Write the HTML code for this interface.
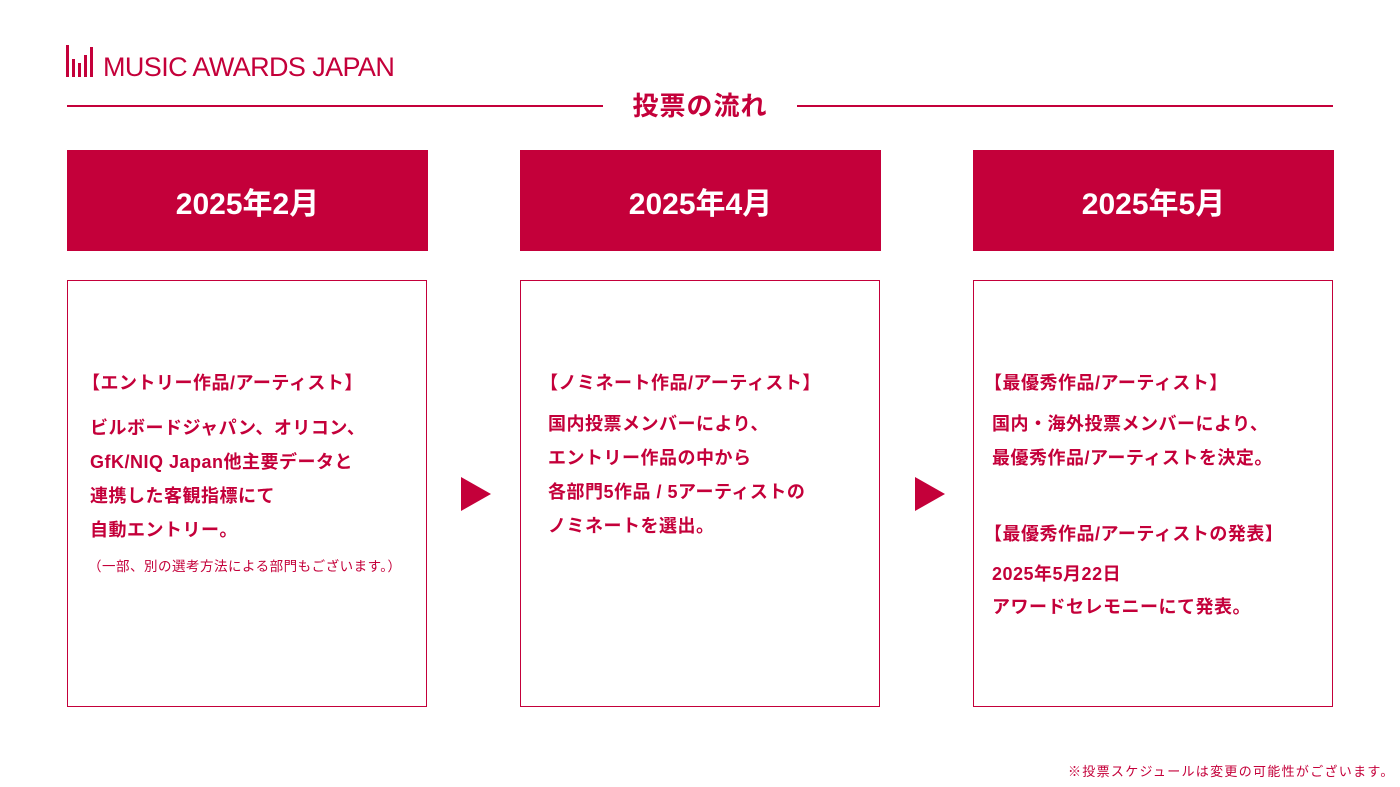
<!DOCTYPE html>
<html><head><meta charset="utf-8"><style>
body{margin:0;width:1400px;height:787px;background:#fff;position:relative;overflow:hidden;font-family:"Liberation Sans","Noto Sans CJK JP",sans-serif;color:#c4003a;}
.a{position:absolute;}
.hd{position:absolute;top:150px;width:361px;height:101px;background:#c4003a;color:#fff;font-size:30px;font-weight:bold;display:flex;align-items:center;justify-content:center;}
.bx{position:absolute;top:280px;width:358px;height:425px;border:1.5px solid #c4003a;}
.t{position:absolute;font-size:18px;font-weight:bold;line-height:34px;white-space:nowrap;letter-spacing:0.5px;}
.ar{position:absolute;top:477px;width:0;height:0;border-top:17px solid transparent;border-bottom:17px solid transparent;border-left:30px solid #c4003a;}
</style></head><body>
<div class="a" style="left:66px;top:45px;width:30px;height:32px;">
<svg width="30" height="32"><rect x="0" y="0" width="3" height="32" fill="#c4003a"/><rect x="6" y="14" width="3" height="18" fill="#c4003a"/><rect x="12" y="18" width="3" height="14" fill="#c4003a"/><rect x="18" y="10" width="3" height="22" fill="#c4003a"/><rect x="24" y="2" width="3" height="30" fill="#c4003a"/></svg></div>
<div class="a" style="left:103px;top:51px;font-size:27px;line-height:32px;letter-spacing:-0.6px;">MUSIC AWARDS JAPAN</div>
<div class="a" style="left:67px;top:105px;width:536px;height:2px;background:#c4003a"></div>
<div class="a" style="left:797px;top:105px;width:536px;height:2px;background:#c4003a"></div>
<div class="a" style="left:603px;top:88px;width:194px;text-align:center;font-size:26px;font-weight:bold;line-height:36px;letter-spacing:1px;">投票の流れ</div>
<div class="hd" style="left:67px">2025年2月</div>
<div class="hd" style="left:520px">2025年4月</div>
<div class="hd" style="left:973px">2025年5月</div>
<div class="bx" style="left:67px"></div>
<div class="bx" style="left:520px"></div>
<div class="bx" style="left:973px"></div>
<div class="ar" style="left:461px"></div>
<div class="ar" style="left:915px"></div>
<div class="t" style="left:82px;top:366px;">【エントリー作品/アーティスト】</div>
<div class="t" style="left:90px;top:411px;">ビルボードジャパン、オリコン、<br>GfK/NIQ Japan他主要データと<br>連携した客観指標にて<br>自動エントリー。</div>
<div class="t" style="left:88px;top:556px;font-size:13.5px;font-weight:normal;line-height:22px;">（一部、別の選考方法による部門もございます。）</div>
<div class="t" style="left:540px;top:366px;">【ノミネート作品/アーティスト】</div>
<div class="t" style="left:548px;top:407px;">国内投票メンバーにより、<br>エントリー作品の中から<br>各部門5作品 / 5アーティストの<br>ノミネートを選出。</div>
<div class="t" style="left:984px;top:366px;">【最優秀作品/アーティスト】</div>
<div class="t" style="left:992px;top:407px;">国内・海外投票メンバーにより、<br>最優秀作品/アーティストを決定。</div>
<div class="t" style="left:984px;top:517px;">【最優秀作品/アーティストの発表】</div>
<div class="t" style="left:992px;top:558px;line-height:33px;">2025年5月22日<br>アワードセレモニーにて発表。</div>
<div class="a" style="left:1068px;top:762px;font-size:13px;line-height:20px;letter-spacing:1.3px;white-space:nowrap;">※投票スケジュールは変更の可能性がございます。</div>
</body></html>
